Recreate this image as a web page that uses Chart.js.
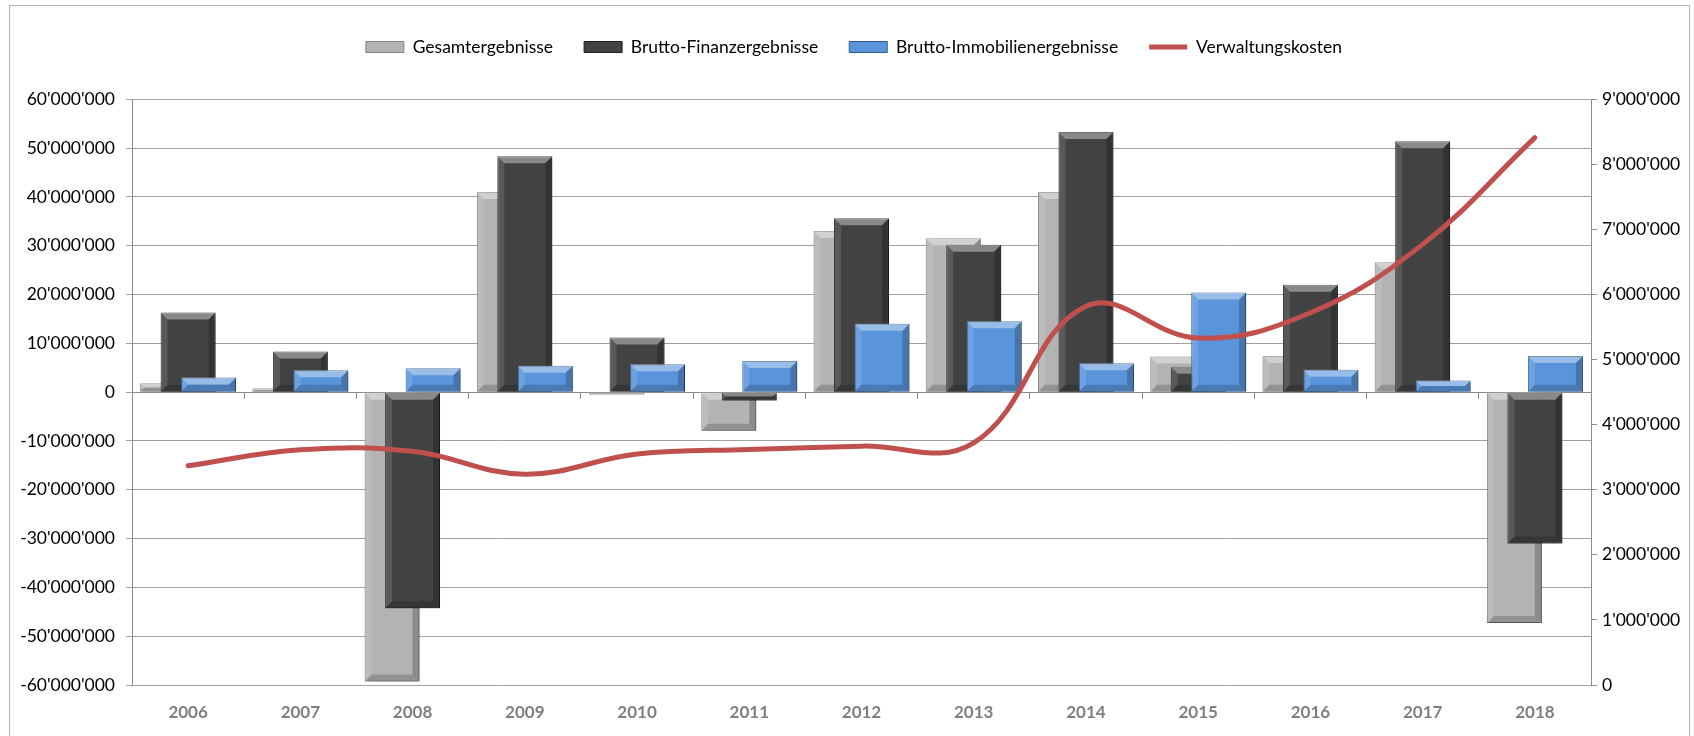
<!DOCTYPE html>
<html>
<head>
<meta charset="utf-8">
<script src="https://cdn.jsdelivr.net/npm/chart.js@4.4.1/dist/chart.umd.min.js"></script>
<style>
html,body{margin:0;padding:0;background:#fff;overflow:hidden;}
#wrap{position:relative;width:1694px;height:736px;}
canvas{position:absolute;left:0;top:0;}
#frame{position:absolute;left:9px;top:5px;width:1679px;height:800px;border:1px solid #b4b4b4;pointer-events:none;}
</style>
</head>
<body>
<div id="wrap"><canvas id="c" width="1694" height="736"></canvas><div id="frame"></div></div>
<script>
// ---- data ----
const years = ['2006','2007','2008','2009','2010','2011','2012','2013','2014','2015','2016','2017','2018'];
const gesamtergebnisse = [1800000, 800000, -59300000, 41000000, -500000, -7900000, 33000000, 31500000, 41000000, 7300000, 7400000, 26600000, -47300000];
const bruttoFinanz = [16300000, 8300000, -44300000, 48300000, 11200000, -1700000, 35600000, 30200000, 53300000, 5200000, 22000000, 51400000, -31000000];
const bruttoImmo = [3000000, 4500000, 4900000, 5400000, 5700000, 6400000, 14000000, 14500000, 5900000, 20400000, 4600000, 2400000, 7400000];
const verwaltungskosten = [3370000, 3615000, 3590000, 3240000, 3550000, 3620000, 3670000, 3720000, 5820000, 5330000, 5720000, 6770000, 8410000];
const leftTicks = {min: -60000000, max: 60000000, step: 10000000};
const rightTicks = {min: 0, max: 9000000, step: 1000000};

function fmt(v) {
  const n = Math.round(v);
  const s = Math.abs(n).toString().replace(/\B(?=(\d{3})+(?!\d))/g, "'");
  return (n < 0 ? '-' : '') + s;
}

Chart.defaults.font.family = "Lato, 'Open Sans', sans-serif";
Chart.defaults.font.size = 17;
Chart.defaults.color = '#000';

function drawBevel(ctx, el) {
  const p = el.getProps(['x', 'y', 'base', 'width'], true);
  const l = p.x - p.width / 2, r = p.x + p.width / 2;
  const t = Math.min(p.y, p.base), b = Math.max(p.y, p.base);
  const h = b - t;
  if (h < 1) return;
  const s = Math.min(7, h / 2, p.width / 2);
  const poly = (pts, col) => {
    ctx.beginPath();
    ctx.moveTo(pts[0][0], pts[0][1]);
    for (let i = 1; i < pts.length; i++) ctx.lineTo(pts[i][0], pts[i][1]);
    ctx.closePath();
    ctx.fillStyle = col;
    ctx.fill();
  };
  poly([[l, t], [r, t], [r - s, t + s], [l + s, t + s]], 'rgba(255,255,255,0.38)');
  poly([[l, t], [l + s, t + s], [l + s, b - s], [l, b]], 'rgba(255,255,255,0.12)');
  poly([[r, t], [r, b], [r - s, b - s], [r - s, t + s]], 'rgba(0,0,0,0.22)');
  poly([[l, b], [l + s, b - s], [r - s, b - s], [r, b]], 'rgba(0,0,0,0.18)');
}

const orderedDraw = {
  id: 'orderedDraw',
  beforeInit(chart) {
    const lg = chart.legend;
    if (lg) {
      const orig = lg.fit;
      lg.fit = function () { orig.call(this); this.height += 33.5; };
    }
  },
  beforeDatasetsDraw(chart) {
    const ctx = chart.ctx;
    ctx.save();
    [0, 1, 2].forEach(i => {
      if (!chart.isDatasetVisible(i)) return;
      const meta = chart.getDatasetMeta(i);
      ctx.save();
      ctx.shadowColor = 'rgba(0,0,0,0.35)';
      ctx.shadowBlur = 6;
      ctx.shadowOffsetX = 2;
      ctx.shadowOffsetY = 2;
      meta.controller.draw();
      ctx.restore();
      meta.data.forEach(el => drawBevel(ctx, el));
    });
    if (chart.isDatasetVisible(3)) chart.getDatasetMeta(3).controller.draw();
    ctx.restore();
    return false;
  }
};

const barCommon = {categoryPercentage: 0.548, barPercentage: 2.68, borderWidth: 1, xAxisID: 'x', yAxisID: 'y'};

new Chart(document.getElementById('c'), {
  type: 'bar',
  data: {
    labels: years,
    datasets: [
      Object.assign({label: 'Gesamtergebnisse', data: gesamtergebnisse, backgroundColor: '#b3b3b3', borderColor: '#858585'}, barCommon),
      Object.assign({label: 'Brutto-Finanzergebnisse', data: bruttoFinanz, backgroundColor: '#424242', borderColor: '#1e1e1e'}, barCommon),
      Object.assign({label: 'Brutto-Immobilienergebnisse', data: bruttoImmo, backgroundColor: '#5a95dc', borderColor: '#2d5b96'}, barCommon),
      {type: 'line', label: 'Verwaltungskosten', data: verwaltungskosten, borderColor: '#c0504d', backgroundColor: '#c0504d',
       borderWidth: 5, borderCapStyle: 'round', pointRadius: 0, tension: 0.4, xAxisID: 'x', yAxisID: 'y1'}
    ]
  },
  options: {
    responsive: false,
    animation: false,
    events: [],
    layout: {padding: {left: 14, top: 7.25, right: 0, bottom: 0}},
    plugins: {
      tooltip: {enabled: false},
      legend: {
        position: 'top',
        labels: {
          usePointStyle: true,
          pointStyleWidth: 38,
          boxHeight: 11,
          padding: 31,
          color: '#000',
          font: {size: 17.5},
          generateLabels(chart) {
            const items = Chart.defaults.plugins.legend.labels.generateLabels(chart);
            items.forEach((it, i) => { it.pointStyle = chart.data.datasets[i].type === 'line' ? 'line' : 'rect'; });
            return items;
          }
        }
      }
    },
    scales: {
      x: {
        type: 'category', position: 'bottom', offset: true,
        grid: {display: false, drawTicks: false}, border: {display: false},
        ticks: {color: '#7f7f7f', font: {weight: 'bold', size: 17}, padding: 17},
        afterFit(s) { s.height = 51; }
      },
      x0: {
        type: 'category', labels: years, position: {y: 0}, offset: true,
        grid: {offset: true, drawOnChartArea: false, drawTicks: true, tickLength: 6, color: '#8c8c8c'},
        border: {display: true, color: '#8c8c8c', width: 1},
        ticks: {display: false},
        afterFit(s) { s.height = 0; }
      },
      y: {
        position: 'left', min: leftTicks.min, max: leftTicks.max,
        ticks: {stepSize: leftTicks.step, callback: fmt, padding: 11, color: '#000', font: {size: 17.5}},
        grid: {color: '#a0a0a0', tickLength: 6},
        border: {color: '#8c8c8c'},
        afterFit(s) { s.width = 132 - 14; }
      },
      y1: {
        position: 'right', min: rightTicks.min, max: rightTicks.max,
        ticks: {stepSize: rightTicks.step, callback: fmt, padding: 5, color: '#000', font: {size: 17.5}},
        grid: {drawOnChartArea: false, tickLength: 6, color: '#8c8c8c'},
        border: {color: '#8c8c8c'},
        afterFit(s) { s.width = 103; }
      }
    }
  },
  plugins: [orderedDraw]
});
</script>
</body>
</html>
